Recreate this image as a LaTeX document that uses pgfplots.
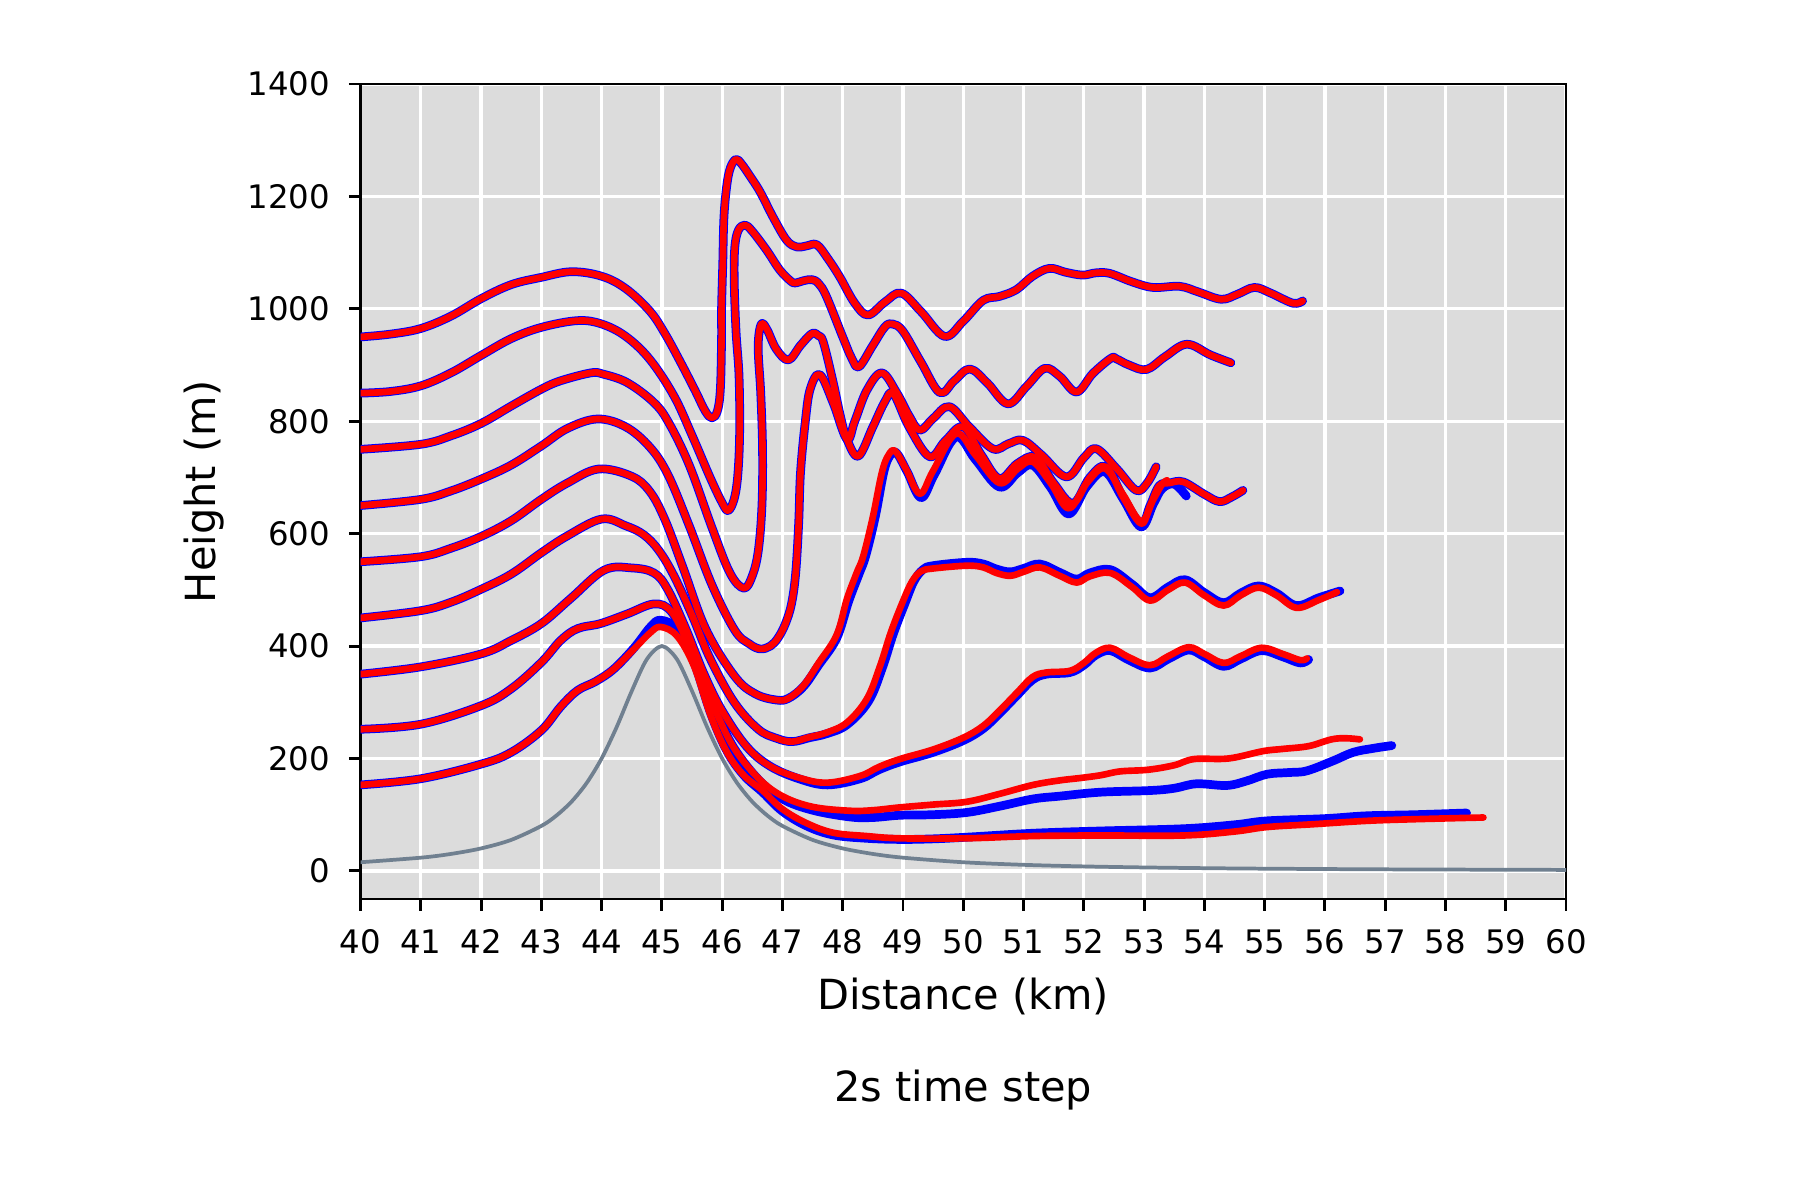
\documentclass[border=0pt]{standalone}
\usepackage{fontspec}
\setmainfont{DejaVu Sans}
\usepackage{pgfplots}
\usepackage{pgfplotstable}
\pgfplotsset{compat=1.18}
\definecolor{bgg}{RGB}{220,220,220}
\definecolor{slate}{RGB}{112,128,144}

\pgfplotstableread{
x y
40 950
40.5 955
41 965
41.5 987
42 1018
42.5 1043
43 1056
43.5 1066
44 1058
44.4 1036
44.8 996
45.05 956
45.3 907
45.55 855
45.72 818
45.83 806
45.92 818
45.97 857
45.99 946
45.99 1000
46.01 1080
46.03 1164
46.08 1222
46.14 1252
46.23 1266
46.32 1258
46.45 1238
46.63 1208
46.85 1162
47.07 1122
47.24 1110
47.4 1112
47.57 1114
47.75 1090
47.95 1057
48.2 1010
48.42 989
48.7 1012
48.97 1028
49.3 995
49.69 951
50.0 978
50.33 1015
50.6 1022
50.88 1034
51.15 1058
51.43 1072
51.7 1065
51.98 1060
52.2 1064
52.43 1063
52.8 1048
53.15 1038
53.59 1040
53.9 1030
54.28 1017
54.55 1026
54.83 1038
55.1 1028
55.47 1010
55.63 1014
}\tA

\pgfplotstableread{
x y
40 850
40.5 853
41 863
41.5 886
42 917
42.5 947
43 967
43.6 979
44 973
44.4 951
44.8 910
45.2 845
45.5 775
45.8 700
46.0 655
46.1 641
46.2 662
46.26 705
46.29 780
46.28 880
46.23 960
46.2 1050
46.21 1110
46.27 1140
46.38 1149
46.5 1138
46.74 1104
46.95 1070
47.13 1050
47.21 1046
47.35 1050
47.49 1052
47.6 1045
47.73 1022
48.0 950
48.15 912
48.27 897
48.5 935
48.7 968
48.83 973
49.0 960
49.3 905
49.61 851
49.85 872
50.11 893
50.4 868
50.74 831
51.05 862
51.35 894
51.6 880
51.88 852
52.15 885
52.45 912
52.54 911
52.75 900
53.04 892
53.35 915
53.71 937
54.1 918
54.44 904
}\tB

\pgfplotstableread{
x y
40 750
41 759
41.5 774
42 796
42.5 827
43 857
43.32 872
43.82 886
44.02 884
44.42 869
44.85 835
45.1 800
45.45 723
45.83 611
46.13 530
46.36 503
46.5 525
46.6 570
46.66 650
46.67 750
46.64 850
46.6 920
46.61 955
46.66 974
46.75 962
46.9 928
47.1 909
47.3 935
47.49 956
47.6 952
47.68 940
47.84 870
47.96 810
48.07 768
48.26 738
48.5 790
48.7 835
48.84 849
49.1 790
49.44 737
49.7 765
50.0 790
50.3 740
50.6 698
50.9 725
51.2 736
51.5 690
51.82 654
52.1 700
52.37 719
52.65 665
52.95 618
53.1 650
53.25 685
53.42 690
53.65 692
54.0 670
54.25 657
54.45 665
54.64 677
}\tC

\pgfplotstableread{
x y
40 650
41 661
41.5 676
42 697
42.5 722
43 756
43.43 787
43.93 804
44.4 790
44.8 754
45.1 705
45.45 615
45.83 509
46.21 428
46.45 404
46.63 395
46.8 400
46.93 415
47.05 440
47.15 475
47.22 530
47.27 620
47.3 709
47.38 800
47.46 857
47.62 883
47.84 833
48.07 768
48.2 800
48.4 855
48.65 886
48.9 850
49.1 810
49.28 784
49.5 805
49.77 826
50.1 790
50.49 751
50.75 760
50.99 766
51.3 740
51.71 701
52.0 735
52.21 751
52.55 715
52.87 677
53.05 690
53.2 719
}\tD

\pgfplotstableread{
x y
40 550
41 559
41.5 574
42 595
42.5 623
43 661
43.43 690
43.95 715
44.5 702
44.8 675
45.05 625
45.35 540
45.73 430
46.21 346
46.55 315
46.9 304
47.1 307
47.35 330
47.6 370
47.9 420
48.07 484
48.23 530
48.34 560
48.5 630
48.65 709
48.76 740
48.87 747
49.05 715
49.28 671
49.5 712
49.88 778
50.2 740
50.6 690
50.9 715
51.15 728
51.45 690
51.75 645
52.05 690
52.35 716
52.65 670
52.95 622
53.15 660
53.3 688
53.38 695
}\tEr

\pgfplotstableread{
x y
40 550
41 559
41.5 574
42 595
42.5 623
43 661
43.43 690
43.95 715
44.5 702
44.8 675
45.05 625
45.35 540
45.73 430
46.21 346
46.55 315
46.9 304
47.1 307
47.35 328
47.6 366
47.9 414
48.1 480
48.27 528
48.38 560
48.54 630
48.68 709
48.78 738
48.89 744
49.07 710
49.3 664
49.52 705
49.88 772
50.2 732
50.6 683
50.9 708
51.15 722
51.45 682
51.75 635
52.05 684
52.35 710
52.65 662
52.95 612
53.15 652
53.3 680
53.5 688
53.7 667
}\tEb

\pgfplotstableread{
x y
40 450
41 463
41.5 478
42 501
42.5 528
43 566
43.43 596
44.0 626
44.4 614
44.7 598
44.95 570
45.2 525
45.5 455
45.8 378
46.2 300
46.6 252
46.9 236
47.16 230
47.45 238
47.73 246
48.07 264
48.4 306
48.62 365
48.8 425
49.0 480
49.15 515
49.3 533
49.5 538
50.06 543
50.33 540
50.55 530
50.78 525
51.0 532
51.27 540
51.6 525
51.88 513
52.1 524
52.44 530
52.8 505
53.1 481
53.4 500
53.68 513
54.0 490
54.32 472
54.6 490
54.9 504
55.2 490
55.53 468
55.9 482
56.2 496
}\tFr

\pgfplotstableread{
x y
40 450
41 463
41.5 478
42 501
42.5 528
43 566
43.43 596
44.0 626
44.4 614
44.7 598
44.95 570
45.2 525
45.5 455
45.8 378
46.2 300
46.6 252
46.9 236
47.16 230
47.45 237
47.73 244
48.07 260
48.43 302
48.66 362
48.84 422
49.04 478
49.18 515
49.33 536
49.5 543
50.06 549
50.33 546
50.55 537
50.78 532
51.0 538
51.27 546
51.6 531
51.88 519
52.1 530
52.44 536
52.8 510
53.1 486
53.4 505
53.68 518
54.0 495
54.32 477
54.6 494
54.9 507
55.2 494
55.53 472
55.9 486
56.25 498
}\tFb

\pgfplotstableread{
x y
40 350
41 363
42 386
42.5 410
43 440
43.48 484
44.04 535
44.5 539
44.87 530
45.1 500
45.4 430
45.7 350
46.0 285
46.4 222
46.8 186
47.3 165
47.75 157
48.29 169
48.6 185
48.95 199
49.5 216
50.0 237
50.33 258
50.6 285
50.89 317
51.15 345
51.38 353
51.77 356
52.0 370
52.2 388
52.44 397
52.75 380
53.1 366
53.4 382
53.74 398
54.0 386
54.32 370
54.6 382
54.95 397
55.3 386
55.59 375
55.7 378
}\tGr

\pgfplotstableread{
x y
40 350
41 363
42 386
42.5 410
43 440
43.48 484
44.04 535
44.5 539
44.87 530
45.1 500
45.4 430
45.7 350
46.0 285
46.4 222
46.8 186
47.3 163
47.75 153
48.29 164
48.6 180
48.95 194
49.5 211
50.0 232
50.33 253
50.6 280
50.89 312
51.15 340
51.38 350
51.77 353
52.0 366
52.2 384
52.44 392
52.75 375
53.1 361
53.4 377
53.74 393
54.0 381
54.32 364
54.6 377
54.95 392
55.3 381
55.59 370
55.73 376
}\tGb

\pgfplotstableread{
x y
40 252
41 261
42 294
42.5 324
43 371
43.32 410
43.6 431
43.98 440
44.42 457
44.87 475
45.15 462
45.4 412
45.65 342
45.9 282
46.2 218
46.6 165
47.0 133
47.5 114
48.12 107
48.5 108
48.95 113
49.5 118
50.06 123
50.6 137
51.16 153
51.6 161
51.92 165
52.27 170
52.6 177
53.07 180
53.5 188
53.83 199
54.4 200
54.97 213
55.3 217
55.73 222
56.11 234
56.35 236
56.58 234
}\tHr

\pgfplotstableread{
x y
40 252
41 261
42 294
42.5 324
43 371
43.32 410
43.6 431
43.98 440
44.42 457
44.87 475
45.15 462
45.4 412
45.65 342
45.9 282
46.2 218
46.6 163
47.0 128
47.5 108
48.12 96
48.5 95
48.95 99
49.5 100
50.06 104
50.6 115
51.16 128
51.6 133
52.27 140
53.1 143
53.5 147
53.87 155
54.37 152
54.7 160
55.04 172
55.4 175
55.7 178
56.14 196
56.47 211
56.8 218
57.11 223
}\tHb

\pgfplotstableread{
x y
40 153
41 164
42 190
42.5 211
43 250
43.32 292
43.6 321
43.9 337
44.2 359
44.54 395
44.81 424
44.98 434
45.25 418
45.53 365
45.81 276
46.08 211
46.36 170
46.67 143
47.0 110
47.4 85
47.84 68
48.4 62
48.95 58
50.06 58
51.16 62
52.27 63
53.65 63
54.5 70
55.04 78
55.8 83
56.69 89
57.5 92
58.63 95
}\tIr

\pgfplotstableread{
x y
40 153
41 164
42 190
42.5 211
43 250
43.32 292
43.6 321
43.9 337
44.2 359
44.54 397
44.81 434
44.98 446
45.25 430
45.53 372
45.81 280
46.08 213
46.36 170
46.67 140
47.0 106
47.4 80
47.84 64
48.4 58
48.95 56
49.5 57
50.06 60
51.16 67
52.27 71
53.65 75
54.5 82
55.04 89
56.0 93
56.69 98
57.5 100
58.35 103
}\tIb

\begin{document}
\begin{tikzpicture}
\path[use as bounding box] (0,0) rectangle (6in,4in);
\begin{axis}[
  at={(1.2017in,1.0033in)}, anchor=south west,
  scale only axis, width=4.0183in, height=2.7167in,
  xmin=40, xmax=60, ymin=-50, ymax=1400,
  xtick={40,41,...,60}, ytick={0,200,...,1400},
  axis background/.style={fill=bgg},
  grid=major, major grid style={white, line width=0.8pt},
  axis line style={black, line width=0.7pt},
  tick align=outside, major tick length=2.8pt,
  tick style={black, line width=0.7pt},
  tick pos=left,
  /pgf/number format/assume math mode=true,
  /pgf/number format/1000 sep={},
  ticklabel style={font=\fontsize{7.8}{9}\selectfont},
  xticklabel style={yshift=-1.1pt},
  yticklabel style={xshift=-1pt},
  xlabel={Distance (km)},
  xlabel style={at={(axis description cs:0.5,-0.1196)}, anchor=center, font=\fontsize{10}{12}\selectfont},
  ylabel={Height (m)},
  ylabel style={at={(axis description cs:-0.1296,0.5)}, anchor=center, font=\fontsize{10}{12}\selectfont},
  title={2s time step},
  title style={at={(axis description cs:0.5,-0.2654)}, anchor=center, font=\fontsize{10}{12}\selectfont},
  bl/.style={draw=blue, line width=2.1pt, line cap=round, line join=round, smooth, tension=0.6, no markers},
  rd/.style={draw=red, line width=1.6pt, line cap=round, line join=round, smooth, tension=0.6, no markers},
]
\addplot[draw=slate, line width=0.9pt, smooth, no markers] coordinates {
(40,15.38) (41,23.53) (41.5,30.19) (42,40) (42.5,55.17) (43,80) (43.25,98.46) (43.5,123.08) (43.75,156.10) (44,200) (44.25,256) (44.5,320) (44.75,376.47) (45,400) (45.25,376.47) (45.5,320) (45.75,256) (46,200) (46.25,156.10) (46.5,123.08) (46.75,98.46) (47,80) (47.5,55.17) (48,40) (48.5,30.19) (49,23.53) (50,15.38) (51,10.81) (52,8) (53,6.15) (54,4.88) (55,3.96) (57,2.76) (60,1.77)};

\addplot[bl] table {\tA};
\addplot[bl] table {\tB};
\addplot[bl] table {\tC};
\addplot[bl] table {\tD};
\addplot[bl] table {\tEb};
\addplot[bl] table {\tFb};
\addplot[bl] table {\tGb};
\addplot[bl] table {\tHb};
\addplot[bl] table {\tIb};

\addplot[rd] table {\tA};
\addplot[rd] table {\tB};
\addplot[rd] table {\tC};
\addplot[rd] table {\tD};
\addplot[rd] table {\tEr};
\addplot[rd] table {\tFr};
\addplot[rd] table {\tGr};
\addplot[rd] table {\tHr};
\addplot[rd] table {\tIr};
\end{axis}
\end{tikzpicture}
\end{document}
